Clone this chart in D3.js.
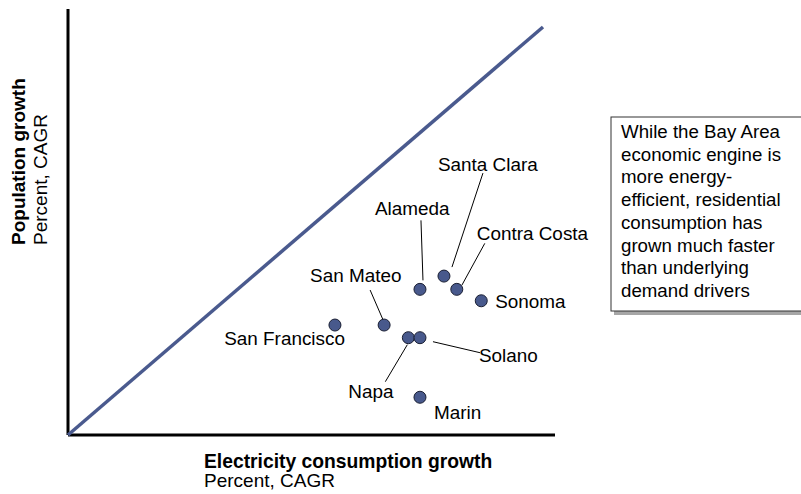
<!DOCTYPE html>
<html>
<head>
<meta charset="utf-8">
<script src="https://cdn.jsdelivr.net/npm/d3@7/dist/d3.min.js"></script>
<style>
  html, body { margin: 0; padding: 0; background: #fff; }
  svg { display: block; font-family: "Liberation Sans", Arial, sans-serif; }
</style>
</head>
<body>
<svg id="chart" width="801" height="494"></svg>
<script>
// ---- data ----
const counties = ["San Francisco", "San Mateo", "Napa", "Solano", "Alameda", "Santa Clara", "Contra Costa", "Sonoma", "Marin"];
const electricityGrowth = [1.124, 1.331, 1.433, 1.482, 1.482, 1.583, 1.637, 1.740, 1.482];
const populationGrowth  = [0.539, 0.539, 0.477, 0.477, 0.714, 0.779, 0.714, 0.658, 0.185];
const parityLine = [0, 2.0];
const xTitle = ["Electricity consumption growth", "Percent, CAGR"];
const yTitle = ["Population growth", "Percent, CAGR"];
const noteLines = ["While the Bay Area", "economic engine is", "more energy-", "efficient, residential", "consumption has", "grown much faster", "than underlying", "demand drivers"];

// label layout (pixel offsets relative to point)
const labelLayout = {
  "San Francisco": {dx: 10, dy: 20, anchor: "end"},
  "San Mateo":     {dx: -74, dy: -43, anchor: "start", leader: [-14, -35, -1, -5]},
  "Napa":          {dx: -60, dy: 60, anchor: "start", leader: [-23, 44, -1, 7]},
  "Solano":        {dx: 59, dy: 24, anchor: "start", leader: [13, 4, 60, 15]},
  "Alameda":       {dx: -45, dy: -74, anchor: "start", leader: [1, -69, 3, -9]},
  "Santa Clara":   {dx: -6, dy: -105, anchor: "start", leader: [39, -103, 8, -9]},
  "Contra Costa":  {dx: 20, dy: -49, anchor: "start", leader: [28, -46, 5, -4]},
  "Sonoma":        {dx: 14, dy: 7, anchor: "start"},
  "Marin":         {dx: 14, dy: 22, anchor: "start"}
};

const svg = d3.select("#chart");
const x = d3.scaleLinear().domain([0, 2.0]).range([68, 543]);
const y = d3.scaleLinear().domain([0, 2.0]).range([435, 27]);
const xMax = x.invert(555), yMax = y.invert(9);

// axes
svg.append("line").attr("x1", x(0)).attr("x2", x(xMax)).attr("y1", y(0)).attr("y2", y(0))
  .attr("stroke", "#000").attr("stroke-width", 3);
svg.append("line").attr("x1", x(0)).attr("x2", x(0)).attr("y1", y(0)).attr("y2", y(yMax))
  .attr("stroke", "#000").attr("stroke-width", 3);

// parity line
svg.append("line").attr("x1", x(parityLine[0])).attr("y1", y(parityLine[0]))
  .attr("x2", x(parityLine[1])).attr("y2", y(parityLine[1]))
  .attr("stroke", "#4a5a8e").attr("stroke-width", 3.5);

// leaders
const pts = counties.map((c, i) => ({name: c, cx: x(electricityGrowth[i]), cy: y(populationGrowth[i])}));
pts.forEach(p => {
  const L = labelLayout[p.name];
  if (L.leader) {
    svg.append("line")
      .attr("x1", p.cx + L.leader[0]).attr("y1", p.cy + L.leader[1])
      .attr("x2", p.cx + L.leader[2]).attr("y2", p.cy + L.leader[3])
      .attr("stroke", "#000").attr("stroke-width", 1);
  }
});

// points
svg.selectAll("circle.pt").data(pts).enter().append("circle")
  .attr("class", "pt")
  .attr("cx", d => d.cx).attr("cy", d => d.cy).attr("r", 6)
  .attr("fill", "#48598c").attr("stroke", "#1a1f33").attr("stroke-width", 1);

// labels
svg.selectAll("text.lbl").data(pts).enter().append("text")
  .attr("class", "lbl")
  .attr("x", d => d.cx + labelLayout[d.name].dx)
  .attr("y", d => d.cy + labelLayout[d.name].dy)
  .attr("text-anchor", d => labelLayout[d.name].anchor)
  .attr("font-size", 18.9).attr("fill", "#000")
  .text(d => d.name);

// x title
svg.append("text").attr("x", 204).attr("y", 468).attr("font-size", 19.3).attr("font-weight", "bold").text(xTitle[0]);
svg.append("text").attr("x", 204).attr("y", 487).attr("font-size", 19).text(xTitle[1]);

// y title
svg.append("text").attr("transform", "translate(25,245) rotate(-90)").attr("font-size", 19).attr("font-weight", "bold").text(yTitle[0]);
svg.append("text").attr("transform", "translate(47,245) rotate(-90)").attr("font-size", 19).text(yTitle[1]);

// note box with shadow
svg.append("rect").attr("x", 614).attr("y", 120).attr("width", 200).attr("height", 195).attr("fill", "#a6a6a6");
svg.append("rect").attr("x", 611).attr("y", 117).attr("width", 200).attr("height", 194)
  .attr("fill", "#fff").attr("stroke", "#333").attr("stroke-width", 1);
svg.append("text").attr("font-size", 18.7).attr("fill", "#000")
  .selectAll("tspan").data(noteLines).enter().append("tspan")
  .attr("x", 621).attr("y", (d, i) => 138 + i * 22.7).text(d => d);
</script>
</body>
</html>
